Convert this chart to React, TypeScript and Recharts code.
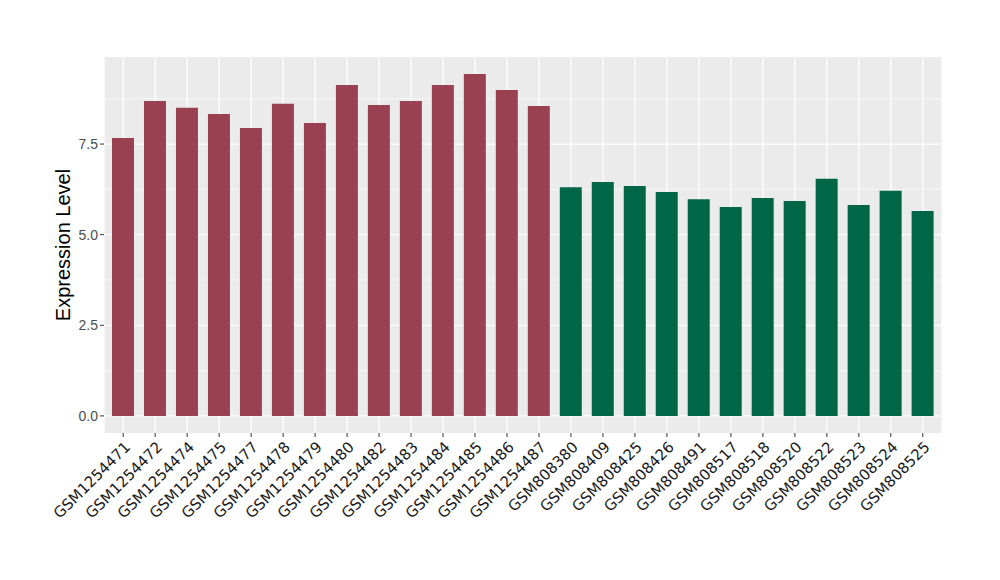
import { BarChart, Bar, XAxis, YAxis, CartesianGrid, Cell } from 'recharts';

const samples = [
  'GSM1254471', 'GSM1254472', 'GSM1254474', 'GSM1254475', 'GSM1254477', 'GSM1254478',
  'GSM1254479', 'GSM1254480', 'GSM1254482', 'GSM1254483', 'GSM1254484', 'GSM1254485',
  'GSM1254486', 'GSM1254487', 'GSM808380', 'GSM808409', 'GSM808425', 'GSM808426',
  'GSM808491', 'GSM808517', 'GSM808518', 'GSM808520', 'GSM808522', 'GSM808523',
  'GSM808524', 'GSM808525',
];

const values = [
  7.67, 8.69, 8.5, 8.33, 7.94, 8.61, 8.08, 9.13, 8.58, 8.69, 9.13, 9.43, 8.99, 8.55,
  6.31, 6.45, 6.34, 6.18, 5.98, 5.76, 6.01, 5.93, 6.54, 5.82, 6.21, 5.65,
];

const groups = [
  'a', 'a', 'a', 'a', 'a', 'a', 'a', 'a', 'a', 'a', 'a', 'a', 'a', 'a',
  'b', 'b', 'b', 'b', 'b', 'b', 'b', 'b', 'b', 'b', 'b', 'b',
];

const groupColors: Record<string, string> = { a: '#9A4151', b: '#006646' };

const yTicks = [0, 2.5, 5, 7.5];
const yMinor = [1.25, 3.75, 6.25, 8.75];

const data = samples.map((name, i) => ({ name, value: values[i], group: groups[i] }));

// rotated sample labels, top-right corner at the tick
const SampleTick = ({ x, y, payload }: any) => (
  <text
    x={x + 8}
    y={y + 11}
    transform={`rotate(-45, ${x + 8}, ${y + 11})`}
    textAnchor="end"
    fontSize={15}
    fontFamily="DejaVu Sans"
    fill="#1A1A1A"
  >
    {payload.value}
  </text>
);

const YTitle = ({ viewBox }: any) => {
  const cx = 70;
  const cy = viewBox.y + viewBox.height / 2;
  return (
    <text
      x={cx}
      y={cy}
      transform={`rotate(-90, ${cx}, ${cy})`}
      textAnchor="middle"
      fontSize={20}
      fontFamily="Liberation Sans"
      fill="#000"
    >
      Expression Level
    </text>
  );
};

export default function App() {
  return (
    <div style={{ position: 'absolute', left: 0, top: 0, background: '#fff' }}>
      <BarChart
        width={1000}
        height={580}
        data={data}
        margin={{ top: 57, right: 58, bottom: 0, left: 0 }}
        barCategoryGap="15%"
      >
        <CartesianGrid
          fill="#EBEBEB"
          fillOpacity={1}
          stroke="#FFFFFF"
          strokeWidth={0.6}
          vertical={false}
          horizontalValues={yMinor}
        />
        <CartesianGrid stroke="#FFFFFF" strokeWidth={1.2} horizontalValues={yTicks} />
        <XAxis
          dataKey="name"
          interval={0}
          height={147}
          padding={{ left: 3.2, right: 3.2 }}
          axisLine={false}
          tickSize={4}
          tickMargin={0}
          tickLine={{ stroke: '#333333' }}
          tick={<SampleTick />}
        />
        <YAxis
          width={104}
          domain={[-0.4715, 9.9015]}
          ticks={yTicks}
          tickFormatter={(v: number) => v.toFixed(1)}
          axisLine={false}
          tickSize={4}
          tickMargin={2}
          tickLine={{ stroke: '#333333' }}
          tick={{ fontSize: 14, fill: '#4D4D4D', fontFamily: 'Liberation Sans' }}
          label={<YTitle />}
        />
        <Bar dataKey="value" isAnimationActive={false}>
          {data.map((d) => (
            <Cell key={d.name} fill={groupColors[d.group]} />
          ))}
        </Bar>
      </BarChart>
    </div>
  );
}
